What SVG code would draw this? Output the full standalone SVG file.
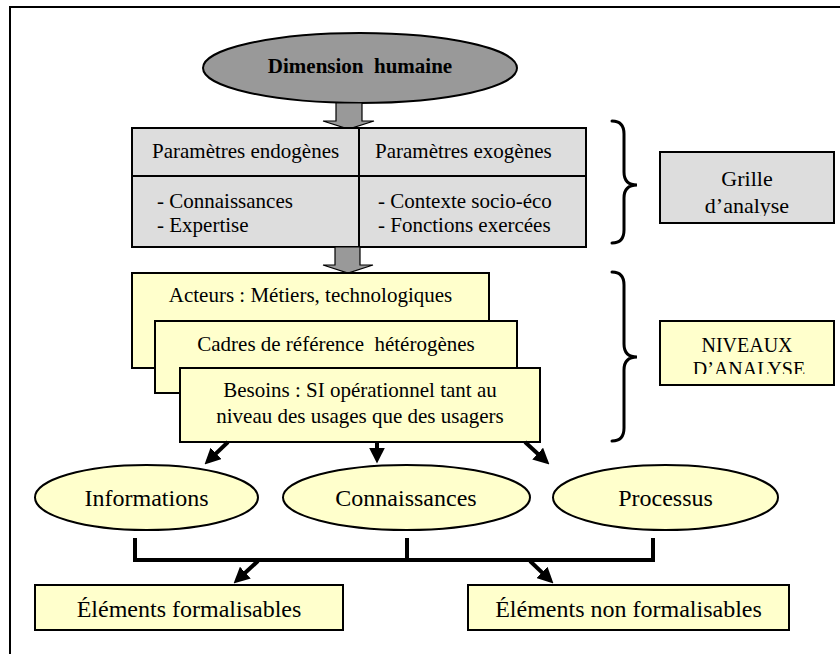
<svg xmlns="http://www.w3.org/2000/svg" width="840" height="654" viewBox="0 0 840 654" font-family="'Liberation Serif', 'Times New Roman', serif">
<style>
text{font-family:'Liberation Serif','Times New Roman',serif;fill:#000}
.t21{font-size:21px}
.t24{font-size:24px}
.t20{font-size:20px}
.grey{fill:#dddddd;stroke:#000;stroke-width:2}
.yel{fill:#ffffcc;stroke:#000;stroke-width:2}
.blk{fill:#999999;stroke:#000;stroke-width:1.2}
.con{fill:none;stroke:#000;stroke-width:4}
.brace{fill:none;stroke:#000;stroke-width:3;stroke-linecap:round}
</style>
<defs>
<marker id="ah" viewBox="0 0 10 10" refX="7" refY="5" markerWidth="16" markerHeight="16" markerUnits="userSpaceOnUse" orient="auto">
<path d="M0,0 L10,5 L0,10 z" fill="#000"/>
</marker>
<clipPath id="clipG"><rect x="660" y="152" width="174" height="64"/></clipPath>
<clipPath id="clipN"><rect x="660" y="321" width="174" height="53"/></clipPath>
</defs>
<rect x="10" y="7" width="840" height="660" fill="#fff" stroke="#000" stroke-width="2"/>

<g id="dimension">
<ellipse cx="360" cy="68" rx="157" ry="35" fill="#999999" stroke="#000" stroke-width="2"/>
<text x="360" y="73" text-anchor="middle" font-size="21" font-weight="bold" xml:space="preserve">Dimension  humaine</text>
</g>

<g id="arrow1">
<path class="blk" d="M336,103 L362,103 L362,121 L374,121 L348.5,129 L323,121 L336,121 Z"/>
</g>

<g id="grille-table">
<rect class="grey" x="132" y="128" width="454" height="119"/>
<line x1="359" y1="128" x2="359" y2="247" stroke="#000" stroke-width="2"/>
<line x1="132" y1="176" x2="586" y2="176" stroke="#000" stroke-width="2"/>
<text class="t21" x="152" y="158">Paramètres endogènes</text>
<text class="t21" x="375" y="158">Paramètres exogènes</text>
<text class="t21" x="157" y="208">- Connaissances</text>
<text class="t21" x="157" y="232">- Expertise</text>
<text class="t21" x="378" y="208">- Contexte socio-éco</text>
<text class="t21" x="378" y="232">- Fonctions exercées</text>
</g>

<g id="arrow2">
<path class="blk" d="M335,247 L360,247 L360,265 L373,265 L348,273 L323,265 L335,265 Z"/>
</g>

<g id="acteurs">
<rect class="yel" x="132" y="273" width="357" height="95"/>
<text class="t21" x="310.5" y="302" text-anchor="middle">Acteurs : Métiers, technologiques</text>
</g>
<g id="cadres">
<rect class="yel" x="155" y="321" width="362" height="72"/>
<text class="t21" x="336" y="351" text-anchor="middle" xml:space="preserve">Cadres de référence  hétérogènes</text>
</g>
<g id="besoins">
<rect class="yel" x="180" y="368" width="360" height="74"/>
<text class="t21" x="360" y="397" text-anchor="middle">Besoins : SI opérationnel tant au</text>
<text class="t21" x="360" y="423" text-anchor="middle">niveau des usages que des usagers</text>
</g>

<g id="brace-grille">
<path class="brace" d="M612,121 Q624,121 624,134 L624,172 Q624,185 637,185 Q624,185 624,198 L624,230 Q624,243 612,243"/>
</g>
<g id="grille-label">
<rect class="grey" x="660" y="152" width="174" height="71"/>
<text x="747" y="186" text-anchor="middle" font-size="22">Grille</text>
<text x="747" y="213" text-anchor="middle" font-size="22" clip-path="url(#clipG)">d’analyse</text>
</g>

<g id="brace-niveaux">
<path class="brace" d="M612,272 Q624,272 624,285 L624,344 Q624,357 637,357 Q624,357 624,370 L624,428 Q624,441 612,441"/>
</g>
<g id="niveaux-label">
<rect class="yel" x="660" y="321" width="174" height="64"/>
<text class="t20" x="747" y="352" text-anchor="middle">NIVEAUX</text>
<text class="t20" x="749" y="376" text-anchor="middle" clip-path="url(#clipN)">D’ANALYSE</text>
</g>

<g id="informations">
<ellipse class="yel" cx="146.5" cy="497.5" rx="111.5" ry="32.5"/>
<text class="t24" x="146.5" y="506" text-anchor="middle">Informations</text>
</g>
<g id="connaissances">
<ellipse class="yel" cx="406.5" cy="497.5" rx="123.5" ry="32.5"/>
<text class="t24" x="406" y="506" text-anchor="middle">Connaissances</text>
</g>
<g id="processus">
<ellipse class="yel" cx="665.5" cy="497.5" rx="112.5" ry="32.5"/>
<text class="t24" x="665.5" y="506" text-anchor="middle">Processus</text>
</g>

<g id="formalisables">
<rect class="yel" x="35" y="585" width="308" height="45"/>
<text class="t24" x="189" y="617" text-anchor="middle">Éléments formalisables</text>
</g>
<g id="non-formalisables">
<rect class="yel" x="468" y="585" width="321" height="45"/>
<text class="t24" x="628.5" y="617" text-anchor="middle">Éléments non formalisables</text>
</g>

<g id="connectors">
<line class="con" x1="228" y1="442" x2="208" y2="461.1" marker-end="url(#ah)"/>
<line class="con" x1="377" y1="442" x2="377" y2="458.8" marker-end="url(#ah)"/>
<line class="con" x1="525" y1="442" x2="545.9" y2="461.2" marker-end="url(#ah)"/>
<path class="con" d="M135,538 V560 H653 V538"/>
<path class="con" d="M407,538 V560"/>
<line class="con" x1="258" y1="561" x2="237.1" y2="580.2" marker-end="url(#ah)"/>
<line class="con" x1="530" y1="561" x2="550" y2="580.1" marker-end="url(#ah)"/>
</g>
</svg>
